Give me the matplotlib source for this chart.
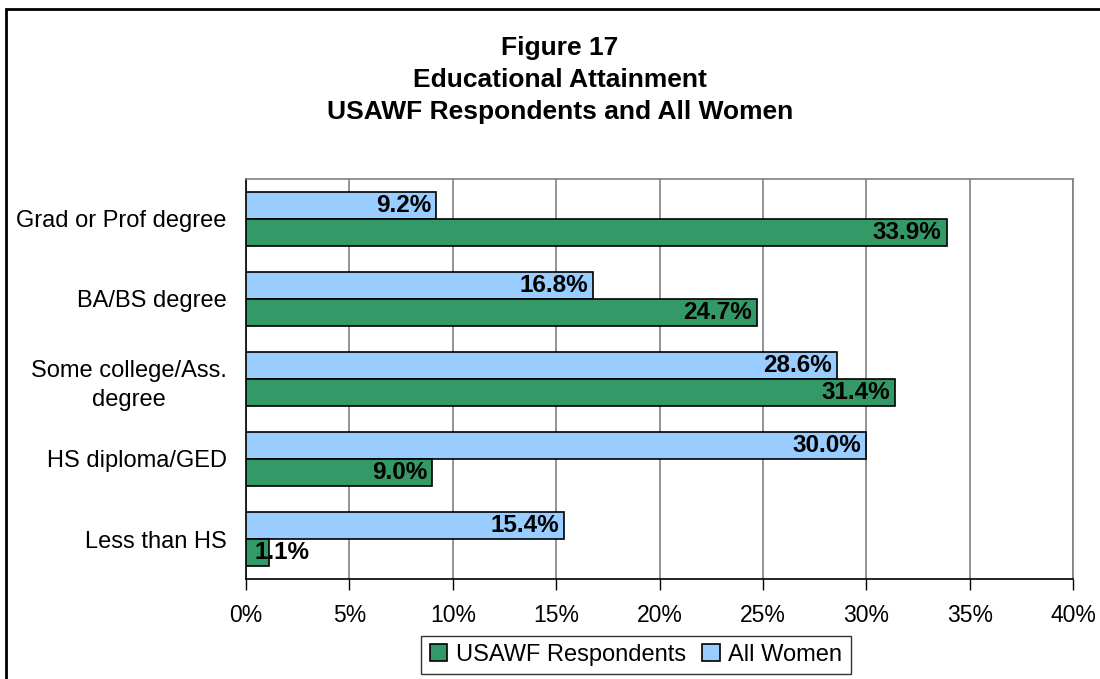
import matplotlib
matplotlib.use("Agg")
import matplotlib.pyplot as plt
from matplotlib.patches import Rectangle
import numpy as np

plt.rcParams["font.family"] = ["Liberation Sans", "DejaVu Sans"]

# Data (top to bottom as shown)
categories = ["Grad or Prof degree", "BA/BS degree", "Some college/Ass.\ndegree",
              "HS diploma/GED", "Less than HS"]
usawf = [33.9, 24.7, 31.4, 9.0, 1.1]
all_women = [9.2, 16.8, 28.6, 30.0, 15.4]
xticks = [0, 5, 10, 15, 20, 25, 30, 35, 40]

GREEN = "#339966"
BLUE = "#99CCFF"

fig = plt.figure(figsize=(11, 6.79), dpi=100)
fig.patches.append(Rectangle((6 / 1100, -0.1), 1.2, 1 - 9 / 679 + 0.1,
                             transform=fig.transFigure, fill=False,
                             edgecolor="black", linewidth=2))

ax = fig.add_axes([246 / 1100, 100 / 679, 827 / 1100, 400 / 679])

y = np.arange(len(categories))
h = 0.34
ax.barh(y - h / 2, all_women, height=h, color=BLUE, edgecolor="black",
        linewidth=1.2, label="All Women", zorder=3)
ax.barh(y + h / 2, usawf, height=h, color=GREEN, edgecolor="black",
        linewidth=1.2, label="USAWF Respondents", zorder=3)

lab_kw = dict(va="center", fontsize=17.5, fontweight="bold", zorder=4)
for yy, v in zip(y - h / 2, all_women):
    ax.text(v - 0.25, yy, f"{v:.1f}%", ha="right", **lab_kw)
for yy, v in zip(y + h / 2, usawf):
    if v < 3:
        # too short to hold its label, so it runs past the bar end
        ax.text(0.4, yy, f"{v:.1f}%", ha="left", **lab_kw)
    else:
        ax.text(v - 0.25, yy, f"{v:.1f}%", ha="right", **lab_kw)

ax.set_ylim(len(categories) - 0.5, -0.5)
ax.set_xlim(0, 40)
ax.set_xticks(xticks)
ax.set_xticklabels([f"{t}%" for t in xticks], fontsize=16.5)
ax.set_yticks(y)
ax.set_yticklabels(categories, fontsize=17, linespacing=1.45)
for lab in ax.get_yticklabels():
    lab.set_multialignment("center")
ax.tick_params(axis="y", length=0, pad=14)
ax.tick_params(axis="x", length=8, width=1, direction="out", pad=10)
ax.xaxis.grid(True, color="#808080", linewidth=1.2, zorder=0)
ax.set_axisbelow(True)
for s in ("top", "right"):
    ax.spines[s].set_color("#808080")
    ax.spines[s].set_linewidth(1.2)
for s in ("left", "bottom"):
    ax.spines[s].set_color("black")
    ax.spines[s].set_linewidth(1.2)

fig.text(560 / 1100, 1 - 80 / 679,
         "Figure 17\nEducational Attainment\nUSAWF Respondents and All Women",
         ha="center", va="center", fontsize=19, fontweight="bold", linespacing=1.42)

handles, labels = ax.get_legend_handles_labels()
leg = fig.legend(handles[::-1], labels[::-1], loc="center",
                 bbox_to_anchor=(636 / 1100, 1 - 655 / 679), ncol=2,
                 fontsize=17, frameon=True, fancybox=False, edgecolor="black",
                 handlelength=0.75, handleheight=0.75, handletextpad=0.35,
                 columnspacing=0.7, borderpad=0.35)
leg.get_frame().set_linewidth(1.0)

fig.savefig("out.png", dpi=100)
